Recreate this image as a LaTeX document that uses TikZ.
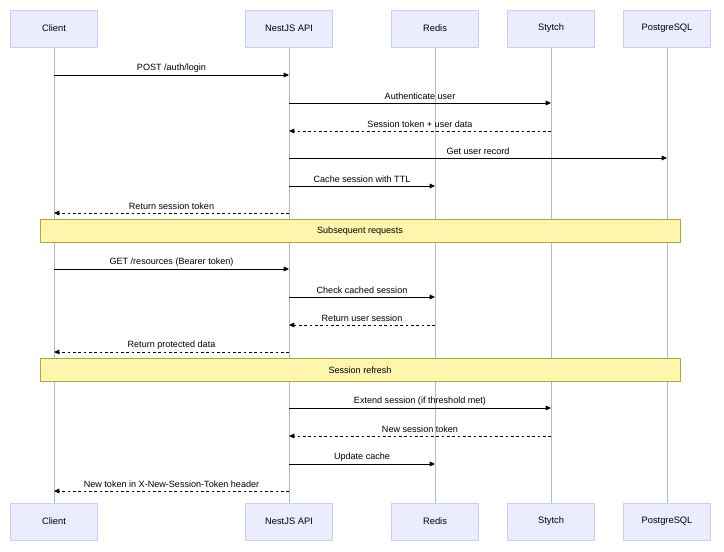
\documentclass[tikz,border=0pt]{standalone}
\usepackage{fontspec}
\setmainfont{Liberation Sans}
\usetikzlibrary{arrows.meta}
\definecolor{actfill}{HTML}{ECECFF}
\definecolor{actline}{HTML}{CCCCFF}
\definecolor{notefill}{HTML}{FFF5AD}
\definecolor{noteline}{HTML}{AAAA33}
\begin{document}
\begin{tikzpicture}[x=0.75pt,y=-0.75pt,
  actor/.style={draw=actline,fill=actfill,minimum width=65.25pt,minimum height=27.75pt,inner sep=0pt,font=\fontsize{7}{8}\selectfont},
  life/.style={draw=actline!70!gray,line width=0.6pt},
  msg/.style={-{Triangle[length=4pt,width=3.5pt]},line width=0.6pt},
  ret/.style={msg,dash pattern=on 2pt off 2pt},
  lbl/.style={font=\fontsize{6.8}{8}\selectfont,above=1pt,inner sep=1pt},
  note/.style={draw=noteline,fill=notefill,minimum width=480pt,minimum height=17.25pt,inner sep=0pt,font=\fontsize{6.8}{8}\selectfont}]
\useasboundingbox (0,0) rectangle (724,552);
\foreach \n/\x/\t in {c/54/Client,n/289/NestJS API,r/435/Redis,s/551/Stytch,p/667/PostgreSQL}{
  \draw[life] (\x,47) -- (\x,503);
  \node[actor] (\n top) at (\x,28.5) {\t};
  \node[actor] (\n bot) at (\x,521.5) {\t};
}
\foreach \n/\x in {c/54,n/289,r/435,s/551,p/667}{
  \foreach \y in {75,103,131,158,186,213,269,297,325,352,408,436,464,491}{
    \coordinate (\n\y) at (\x,\y);
  }
}
\draw[msg] (c75) -- node[lbl]{POST /auth/login} (n75);
\draw[msg] (n103) -- node[lbl]{Authenticate user} (s103);
\draw[ret] (s131) -- node[lbl]{Session token + user data} (n131);
\draw[msg] (n158) -- node[lbl]{Get user record} (p158);
\draw[msg] (n186) -- node[lbl]{Cache session with TTL} (r186);
\draw[ret] (n213) -- node[lbl]{Return session token} (c213);
\node[note] (note1) at (360,231) {Subsequent requests};
\draw[msg] (c269) -- node[lbl]{GET /resources (Bearer token)} (n269);
\draw[msg] (n297) -- node[lbl]{Check cached session} (r297);
\draw[ret] (r325) -- node[lbl]{Return user session} (n325);
\draw[ret] (n352) -- node[lbl]{Return protected data} (c352);
\node[note] (note2) at (360,370) {Session refresh};
\draw[msg] (n408) -- node[lbl]{Extend session (if threshold met)} (s408);
\draw[ret] (s436) -- node[lbl]{New session token} (n436);
\draw[msg] (n464) -- node[lbl]{Update cache} (r464);
\draw[ret] (n491) -- node[lbl]{New token in X-New-Session-Token header} (c491);
\end{tikzpicture}
\end{document}
